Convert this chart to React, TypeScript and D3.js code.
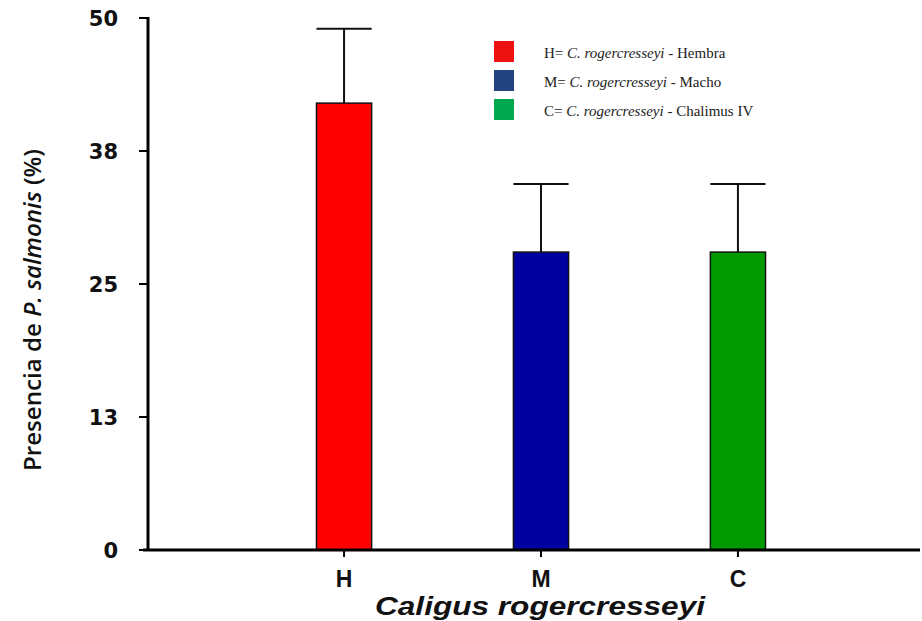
import * as d3 from "d3";

const categories = ["H", "M", "C"];
const means = [42, 28, 28];
const errors = [7, 6.4, 6.4];
const yTicks = [0, 12.5, 25, 37.5, 50];
const barColors = ["#ff0000", "#0000a0", "#009a00"];
const legendColors = ["#ee1111", "#21437f", "#00a84f"];
const legendPrefix = ["H= ", "M= ", "C= "];
const legendSuffix = ["  - Hembra", "  - Macho", "  - Chalimus IV"];

export default function App() {
  const width = 922;
  const height = 621;
  const x0 = 148;
  const y0 = 550;
  const yTop = 18;

  const y = d3.scaleLinear().domain([0, 50]).range([y0, yTop]);
  const x = d3
    .scaleBand()
    .domain(categories)
    .range([x0 + 7, 927])
    .paddingInner(0.72)
    .paddingOuter(0.82);
  const bw = x.bandwidth();

  return (
    <svg width={width} height={height} style={{ position: "absolute", left: 0, top: 0 }}>
      <rect width={width} height={height} fill="white" />
      {/* bars */}
      {categories.map((c, i) => {
        const bx = x(c)!;
        const top = y(means[i]);
        const etop = y(means[i] + errors[i]);
        return (
          <g key={c}>
            <line x1={bx + bw / 2} x2={bx + bw / 2} y1={top} y2={etop} stroke="#111" strokeWidth={2} />
            <line x1={bx} x2={bx + bw} y1={etop} y2={etop} stroke="#111" strokeWidth={2} />
            <rect x={bx} y={top} width={bw} height={y0 - top} fill={barColors[i]} stroke="#111" strokeWidth={1.5} />
          </g>
        );
      })}
      {/* y axis */}
      <line x1={x0} x2={x0} y1={yTop - 1} y2={y0 + 1} stroke="#000" strokeWidth={3} />
      {yTicks.map((t) => (
        <g key={t}>
          <line x1={x0 - 9} x2={x0} y1={y(t)} y2={y(t)} stroke="#000" strokeWidth={2} />
          <text
            x={118}
            y={y(t)}
            dy="0.36em"
            textAnchor="end"
            fontFamily="DejaVu Sans"
            fontWeight="bold"
            fontSize={21}
            fill="#111"
          >
            {d3.format(".0f")(Math.round(t))}
          </text>
        </g>
      ))}
      {/* x axis */}
      <line x1={x0 - 5} x2={920} y1={y0} y2={y0} stroke="#000" strokeWidth={3} />
      {categories.map((c) => (
        <g key={c}>
          <line x1={x(c)! + bw / 2} x2={x(c)! + bw / 2} y1={y0} y2={y0 + 7} stroke="#000" strokeWidth={2} />
          <text
            x={x(c)! + bw / 2}
            y={587}
            textAnchor="middle"
            fontFamily="Liberation Sans"
            fontWeight="bold"
            fontSize={23}
            fill="#111"
          >
            {c}
          </text>
        </g>
      ))}
      <text
        x={540}
        y={615}
        textAnchor="middle"
        fontFamily="Liberation Sans"
        fontWeight="bold"
        fontStyle="italic"
        fontSize={25}
        textLength={330}
        lengthAdjust="spacingAndGlyphs"
        fill="#111"
      >
        Caligus rogercresseyi
      </text>
      <text
        transform={`translate(41,${310}) rotate(-90)`}
        textAnchor="middle"
        fontFamily="Open Sans"
        fontWeight={600}
        fontSize={23}
        textLength={322}
        lengthAdjust="spacingAndGlyphs"
        fill="#111"
      >
        Presencia de <tspan fontStyle="italic">P. salmonis</tspan> (%)
      </text>
      {/* legend */}
      {categories.map((c, i) => (
        <g key={c} transform={`translate(494,${41 + i * 29})`}>
          <rect width={20} height={21} fill={legendColors[i]} />
          <text x={50} y={17} fontFamily="Liberation Serif" fontSize={15} fill="#222">
            {legendPrefix[i]}
            <tspan fontStyle="italic">C. rogercresseyi</tspan>
            {legendSuffix[i]}
          </text>
        </g>
      ))}
    </svg>
  );
}
